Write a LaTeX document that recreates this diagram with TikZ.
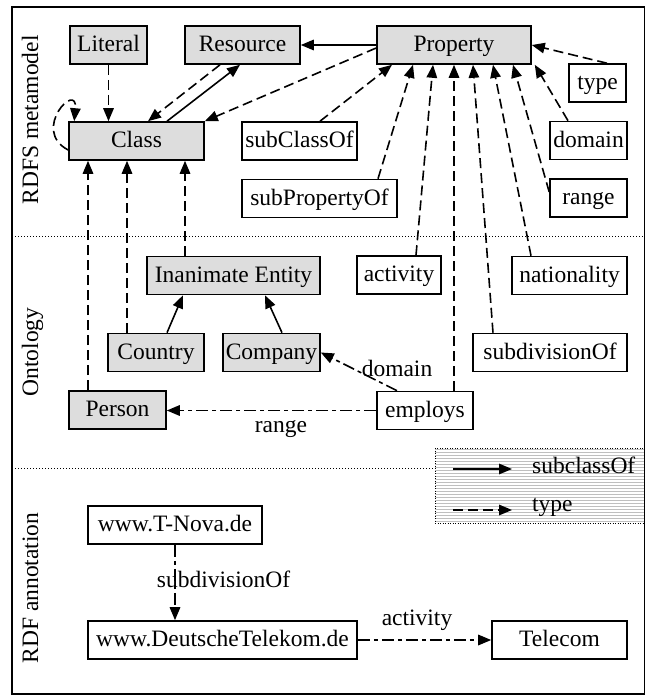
\documentclass[tikz,border=0pt]{standalone}
\usepackage{fontspec}
\setmainfont{Liberation Serif}
\usetikzlibrary{arrows.meta,patterns}
\definecolor{boxgray}{HTML}{DDDDDD}
\begin{document}
\begin{tikzpicture}[x=1pt,y=-1pt,
  txt/.style={font=\fontsize{23.5}{28}\selectfont},
  box/.style={txt,draw,line width=1.6pt,inner sep=0pt,minimum height=38pt,text height=17pt,text depth=4pt},
  gbox/.style={box,fill=boxgray},
  lbl/.style={txt,inner sep=0pt,anchor=base},
  side/.style={txt,inner sep=0pt,anchor=base,rotate=90},
  conn/.style={line width=1.6pt,-{Triangle[length=13pt,width=10.5pt]}},
  typ/.style={conn,dash pattern=on 10pt off 5pt},
  sub/.style={conn},
  rel/.style={conn,dash pattern=on 12pt off 4pt on 4pt off 4pt},
  sep/.style={line width=1pt,dash pattern=on 1pt off 2pt}
]
\useasboundingbox (0,0) rectangle (648,696);

% legend background
\fill[pattern=horizontal lines,pattern color=gray!50] (435,448) rectangle (644,523);
\draw[line width=1pt,dash pattern=on 1pt off 1.5pt] (435,448) rectangle (644,523);

% frame and separators
\draw[line width=1.8pt] (12,7) rectangle (644.5,694);
\draw[sep] (12,236) -- (644.5,236);
\draw[sep] (12,468) -- (435,468);

% side labels
\node[side] (s1) at (38,120) {RDFS metamodel};
\node[side] (s2) at (38,352) {Ontology};
\node[side] (s3) at (38,588) {RDF annotation};

% nodes
\node[gbox,minimum width=77pt]  (literal)  at (108.5,45) {Literal};
\node[gbox,minimum width=115pt] (resource) at (242.5,45) {Resource};
\node[gbox,minimum width=154pt] (property) at (454,45) {Property};
\node[box,minimum width=57pt]   (type)     at (597.5,83) {type};
\node[gbox,minimum width=135pt] (class)    at (136.5,141) {Class};
\node[box,minimum width=115pt]  (subclassof) at (299.5,141) {subClassOf};
\node[box,minimum width=155pt]  (subpropertyof) at (319.5,198.5) {subPropertyOf};
\node[box,minimum width=77pt]   (domain)   at (588.5,140.5) {domain};
\node[box,minimum width=77pt]   (range)    at (588.5,198) {range};
\node[gbox,minimum width=173pt] (inanimate) at (233.5,275.5) {Inanimate Entity};
\node[box,minimum width=84pt]   (activity) at (399,275) {activity};
\node[box,minimum width=115pt]  (nationality) at (569.5,275.5) {nationality};
\node[gbox,minimum width=96pt]  (country)  at (156,352.5) {Country};
\node[gbox,minimum width=97pt]  (company)  at (271.5,352.5) {Company};
\node[box,minimum width=154pt]  (subdivisionof) at (550,352.5) {subdivisionOf};
\node[gbox,minimum width=97pt]  (person)   at (117.5,410) {Person};
\node[box,minimum width=96pt]   (employs)  at (425,410.5) {employs};
\node[box,minimum width=174pt]  (tnova)    at (175,525) {www.T-Nova.de};
\node[box,minimum width=269pt]  (dtag)     at (222.5,640) {www.DeutscheTelekom.de};
\node[box,minimum width=135pt]  (telecom)  at (559.5,640) {Telecom};

% RDFS metamodel connectors
\draw[typ] (literal.south) -- (literal.south |- class.north);
\draw[typ] ([xshift=-22.5pt]resource.south) -- ([xshift=11.5pt]class.north);
\draw[sub] ([xshift=30.5pt]class.north) -- ([xshift=-2.5pt]resource.south);
\draw[sub] (property.west) -- (resource.east);
\draw[typ] ([yshift=-3pt]property.west) -- (class.north east);
\draw[typ] ([yshift=-9pt]class.west) .. controls (30,130) and (78,80) .. ([xshift=6pt]class.north west);

\draw[typ] ([xshift=20.5pt]subclassof.north) -- ([xshift=-62pt]property.south);
\draw[typ] ([xshift=58.5pt]subpropertyof.north) -- ([xshift=-41pt]property.south);
\draw[typ] ([xshift=17pt]activity.north) -- ([xshift=-21pt]property.south);
\draw[typ] ([xshift=29pt]employs.north) -- ([xshift=0pt]property.south);
\draw[typ] ([xshift=-57pt]subdivisionof.north) -- ([xshift=19pt]property.south);
\draw[typ] ([xshift=-38.5pt]nationality.north) -- ([xshift=39pt]property.south);
\draw[typ] ([yshift=6pt]range.west) -- ([xshift=59pt]property.south);
\draw[typ] ([xshift=-20.5pt]domain.north) -- ([xshift=3pt]property.south east);
\draw[typ] ([xshift=9.5pt]type.north) -- (property.east);

% ontology connectors
\coordinate (pp) at ([xshift=-29.5pt]person.north);
\coordinate (cp) at ([xshift=-29pt]country.north);
\coordinate (ip) at ([xshift=-48.5pt]inanimate.north);
\draw[typ] (pp) -- (pp |- class.south);
\draw[typ] (cp) -- (cp |- class.south);
\draw[typ] (ip) -- (ip |- class.south);
\draw[sub] ([xshift=11pt]country.north) -- ([xshift=-50.5pt]inanimate.south);
\draw[sub] ([xshift=10.5pt]company.north) -- ([xshift=31.5pt]inanimate.south);
\draw[rel] ([xshift=-28pt]employs.north) -- (company.east);
\draw[rel] (employs.west) -- (employs.west -| person.east);
\node[lbl] (ldomain) at (397,376) {domain};
\node[lbl] (lrange) at (281,432) {range};

% RDF annotation connectors
\draw[rel] (tnova.south) -- (tnova.south |- dtag.north);
\draw[rel] (dtag.east) -- (telecom.west);
\node[lbl] (lsubdiv) at (223.5,587) {subdivisionOf};
\node[lbl] (lactivity) at (417,625) {activity};

% legend
\coordinate (l1a) at (453,469);
\coordinate (l1b) at (512,469);
\coordinate (l2a) at (453,510);
\coordinate (l2b) at (512,510);
\draw[sub] (l1a) -- (l1b);
\draw[typ] (l2a) -- (l2b);
\node[lbl,anchor=base west] (lsubclass) at (532,473) {subclassOf};
\node[lbl,anchor=base west] (ltype) at (532,511) {type};
\end{tikzpicture}
\end{document}
